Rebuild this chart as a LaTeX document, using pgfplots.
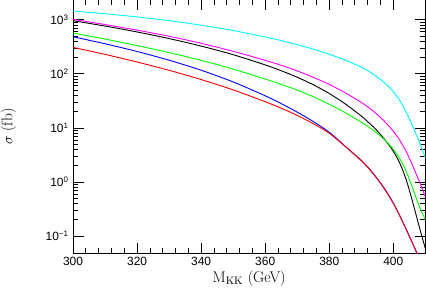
\documentclass[border=0pt]{standalone}
\usepackage{fontspec}
\usepackage{pgfplots}
\pgfplotsset{compat=1.18}
\setsansfont{Liberation Sans}
\definecolor{ccyan}{rgb}{0,1,1}
\definecolor{cmag}{rgb}{1,0,1}
\definecolor{cgreen}{rgb}{0,1,0}
\definecolor{cblue}{rgb}{0,0,1}
\definecolor{cred}{rgb}{1,0,0}
\begin{document}
\begin{tikzpicture}
\begin{axis}[
 scale only axis, width=352bp, height=253bp,
 ymode=log, xmin=300, xmax=410, ymin=0.0484, ymax=2317,
 xtick={300,320,...,400}, minor x tick num=4,
 ytick={0.1,1,10,100,1000},
 yticklabels={10\textsuperscript{−1},10\textsuperscript{0},10\textsuperscript{1},10\textsuperscript{2},10\textsuperscript{3}},
 tick align=inside, xtick pos=both, ytick pos=both,
 major tick length=10.5bp, minor tick length=5bp,
 axis line style={line width=1bp},
 tick style={line width=0.8bp, black},
 every tick label/.append style={font=\sffamily\fontsize{12}{14}\selectfont},
 yticklabel style={xshift=-1bp},
 /pgf/number format/assume math mode=true,
 xlabel={M$_{\mathrm{KK}}$ (GeV)}, ylabel={$\sigma$ (fb)},
 label style={font=\fontsize{15.5}{18}\selectfont},
 xlabel style={at={(axis description cs:0.5,-0.1008)}, anchor=center},
 ylabel style={at={(axis description cs:-0.1832,0.5)}, anchor=center},
 every axis plot/.append style={no marks, line width=0.9bp, smooth, tension=0.5},
]
\addplot[ccyan] coordinates {(300,1449)(310,1291)(320,1127)(330,958.3)(340,791.1)(350,631.0)(360,480.3)(365,411.1)(370,346.7)(375,286.1)(380,230.1)(385,178.9)(390,133.1)(392,114.6)(394,96.24)(396,78.42)(398,62.02)(400,46.82)(402,32.44)(404,19.79)(406,10.89)(408,5.793)(410,2.807)};
\addplot[cmag] coordinates {(300,1017.2)(310,814.9)(320,641.9)(330,494.9)(340,367.1)(350,261.0)(360,177.8)(365,143.7)(370,113.2)(375,86.49)(380,63.63)(385,44.67)(390,29.66)(392,24.59)(394,19.87)(396,15.65)(398,11.91)(400,8.687)(402,5.969)(404,3.703)(406,2.038)(408,1.066)(410,0.5389)};
\addplot[black] coordinates {(300,958.3)(310,764.3)(320,594.4)(330,448.6)(340,325.9)(350,225.8)(360,146.2)(365,114.1)(370,86.49)(375,62.95)(380,43.36)(385,27.83)(390,16.61)(392,13.08)(394,10.13)(396,7.58)(398,5.435)(400,3.703)(402,2.258)(404,1.122)(406,0.4392)(408,0.1578)(410,0.0592)};
\addplot[cgreen] coordinates {(300,567.2)(310,439.2)(320,332.9)(330,246.9)(340,177.0)(350,122.2)(360,80.12)(365,63.91)(370,50.01)(375,37.75)(380,27.41)(385,19.08)(390,12.81)(392,10.75)(394,8.837)(396,7.079)(398,5.482)(400,4.033)(402,2.724)(404,1.591)(406,0.7843)(408,0.3703)(410,0.2039)};
\addplot[cblue] coordinates {(300,484.4)(310,359.4)(320,258.8)(330,178.6)(340,116.6)(350,70.79)(360,39.30)(365,28.18)(370,19.61)(375,13.14)(380,8.323)(385,4.583)(390,2.522)(392,1.904)(394,1.382)(396,0.9665)(398,0.6475)(400,0.4120)(402,0.2416)(404,0.1359)(406,0.07483)(408,0.04032)};
\addplot[cred] coordinates {(300,308.3)(310,228.7)(320,165.4)(330,116.1)(340,78.42)(350,50.54)(360,30.56)(365,23.16)(370,17.04)(375,12.01)(380,7.975)(385,4.55)(390,2.48)(392,1.87)(394,1.357)(396,0.949)(398,0.636)(400,0.405)(402,0.2375)(404,0.1336)(406,0.0736)(408,0.0397)};
\end{axis}
\pgfresetboundingbox
\path[use as bounding box] ([xshift=-73bp,yshift=-36.3bp]current axis.south west) rectangle ([xshift=0.7bp]current axis.north east);
\end{tikzpicture}
\end{document}
